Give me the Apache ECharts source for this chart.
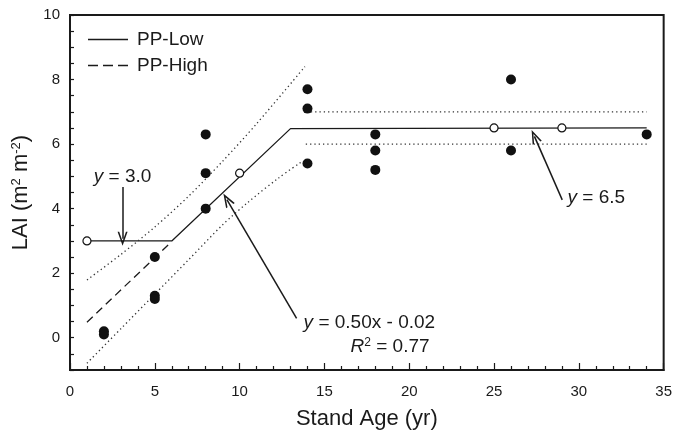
<!DOCTYPE html>
<html><head><meta charset="utf-8">
<script src="https://cdn.jsdelivr.net/npm/echarts@6/dist/echarts.min.js"></script>
<style>html,body{margin:0;padding:0;background:#fff}#c{width:675px;height:437px}</style>
</head><body><div id="c"></div>
<script>
// ---- data ----
const filledAge = [2, 2, 5, 5, 5, 8, 8, 8, 14, 14, 14, 18, 18, 18, 26, 26, 34];
const filledLAI = [0.2, 0.1, 2.5, 1.3, 1.2, 4.0, 5.1, 6.3, 7.7, 7.1, 5.4, 6.3, 5.8, 5.2, 8.0, 5.8, 6.3];
const openAge = [1, 10, 25, 29];
const openLAI = [3.0, 5.1, 6.5, 6.5];
const lowAge = [1, 6, 13, 34];
const lowLAI = [3.0, 3.0, 6.48, 6.5];
const highAge = [1, 6];
const highLAI = [0.48, 2.98];
const ciUpAge = [1, 3, 5, 7, 9, 11, 13.85];
const ciUpLAI = [1.79, 2.58, 3.43, 4.39, 5.47, 6.63, 8.4];
const ciLoAge = [1, 3, 5, 7, 9, 10.5, 12.3, 13.65];
const ciLoLAI = [-0.79, 0.28, 1.35, 2.42, 3.5, 4.2, 4.95, 5.45];
const plateauUpAge = [14.2, 34];
const plateauUpLAI = [7.0, 7.0];
const plateauLoAge = [13.9, 34];
const plateauLoLAI = [6.0, 6.0];
const xTickLabels = [0, 5, 10, 15, 20, 25, 30, 35];
const yTickLabels = [0, 2, 4, 6, 8, 10];
// annotations (data space)
const noteText = ['{i|y} = 3.0', '{i|y} = 0.50x - 0.02', '{i|R}{sup|2} = 0.77', '{i|y} = 6.5'];
const noteAge = [3.1, 17.65, 18.87, 31.03];
const noteLAI = [4.98, 0.45, -0.28, 4.34];
const arrowFromAge = [3.1, 13.36, 29.02];
const arrowFromLAI = [4.67, 0.60, 4.27];
const arrowToAge = [3.1, 9.25, 27.38];
const arrowToLAI = [3.07, 4.28, 6.24];

const zip = (a, b) => a.map((v, i) => [v, b[i]]);
const FONT = '"Liberation Sans", Arial, Helvetica, sans-serif';
const INK = '#1a1a1a';
const arrowHead = 'path://M5,0 L10,14 L8.4,14 L5,4.5 L1.6,14 L0,14 Z';
const iconSolid = 'path://M0,0 L40,0 L40,1.3 L0,1.3 Z';
const iconDash = 'path://M0,0 L10,0 L10,1.3 L0,1.3 Z M15,0 L25,0 L25,1.3 L15,1.3 Z M30,0 L40,0 L40,1.3 L30,1.3 Z';

const chart = echarts.init(document.getElementById('c'), null, {renderer: 'canvas'});
const dotted = {color: '#333', width: 1.3, type: [1.3, 3]};

chart.setOption({
  animation: false,
  backgroundColor: '#fff',
  textStyle: {fontFamily: FONT},
  grid: {left: 70, right: 7, top: 15, bottom: 67, show: true, borderColor: INK, borderWidth: 2, backgroundColor: 'transparent'},
  legend: {
    orient: 'vertical', left: 88, top: 30, padding: 0,
    itemWidth: 40, itemHeight: 1.3, itemGap: 7,
    data: [{name: 'PP-Low', icon: iconSolid}, {name: 'PP-High', icon: iconDash}],
    itemStyle: {color: INK, borderWidth: 0},
    textStyle: {fontSize: 19, color: INK, fontFamily: FONT, padding: [0, 0, 0, 4]}
  },
  xAxis: {
    type: 'value', min: 0, max: 35, interval: 5,
    axisLine: {onZero: false, lineStyle: {color: INK, width: 2}},
    axisTick: {inside: true, length: 7, lineStyle: {color: INK, width: 1.2}},
    minorTick: {show: true, splitNumber: 5, length: 4, lineStyle: {color: INK, width: 1.2}},
    splitLine: {show: false},
    axisLabel: {fontSize: 15, color: INK, margin: 14, fontFamily: FONT,
      formatter: v => xTickLabels.includes(v) ? String(v) : ''},
    name: 'Stand Age (yr)', nameLocation: 'middle', nameGap: 38,
    nameTextStyle: {fontSize: 22, color: INK, fontFamily: FONT}
  },
  yAxis: {
    type: 'value', min: -1, max: 10, interval: 0.5,
    axisLine: {onZero: false, lineStyle: {color: INK, width: 2}},
    axisTick: {inside: true, length: 4, lineStyle: {color: INK, width: 1.2}},
    splitLine: {show: false},
    axisLabel: {fontSize: 15, color: INK, margin: 10, fontFamily: FONT,
      formatter: v => yTickLabels.includes(v) ? String(v) : ''},
    name: 'LAI (m{sup|2} m{sup|-2})', nameLocation: 'middle', nameGap: 36,
    nameTextStyle: {fontSize: 22, color: INK, fontFamily: FONT,
      rich: {sup: {fontSize: 13, color: INK, fontFamily: FONT, padding: [0, 0, 10, 0]}}}
  },
  series: [
    {name: 'PP-Low', type: 'line', data: zip(lowAge, lowLAI), symbol: 'none', z: 3,
      lineStyle: {color: INK, width: 1.3}, itemStyle: {color: INK}},
    {name: 'PP-High', type: 'line', data: zip(highAge, highLAI), symbol: 'none', z: 3,
      lineStyle: {color: INK, width: 1.3, type: [8, 5]}, itemStyle: {color: INK}},
    {name: 'ci-up', type: 'line', data: zip(ciUpAge, ciUpLAI), symbol: 'none', smooth: 0.3, lineStyle: dotted},
    {name: 'ci-lo', type: 'line', data: zip(ciLoAge, ciLoLAI), symbol: 'none', smooth: 0.3, lineStyle: dotted},
    {name: 'pl-up', type: 'line', data: zip(plateauUpAge, plateauUpLAI), symbol: 'none', lineStyle: dotted},
    {name: 'pl-lo', type: 'line', data: zip(plateauLoAge, plateauLoLAI), symbol: 'none', lineStyle: dotted},
    {name: 'filled', type: 'scatter', data: zip(filledAge, filledLAI), symbol: 'circle', symbolSize: 10, z: 5,
      itemStyle: {color: '#111', opacity: 1}},
    {name: 'open', type: 'scatter', data: zip(openAge, openLAI), symbol: 'circle', symbolSize: 8, z: 6,
      itemStyle: {color: '#fff', borderColor: '#111', borderWidth: 1.2, opacity: 1}},
    {name: 'notes', type: 'line', data: [], silent: true,
      markLine: {
        silent: true, animation: false,
        symbol: ['none', arrowHead], symbolSize: [10, 14],
        lineStyle: {color: INK, width: 1.5, type: 'solid'},
        label: {show: false},
        data: arrowFromAge.map((x, i) => [
          {coord: [x, arrowFromLAI[i]]},
          {coord: [arrowToAge[i], arrowToLAI[i]]}
        ])
      },
      markPoint: {
        silent: true, animation: false,
        symbol: 'circle', symbolSize: 0, itemStyle: {color: 'transparent'},
        label: {show: true, position: 'inside', fontSize: 19, color: INK, fontFamily: FONT,
          rich: {
            i: {fontStyle: 'italic', fontSize: 19, color: INK, fontFamily: FONT},
            sup: {fontSize: 12, color: INK, fontFamily: FONT, padding: [0, 0, 9, 0]}
          }},
        data: noteText.map((t, i) => ({coord: [noteAge[i], noteLAI[i]], label: {formatter: t}}))
      }
    }
  ]
});
</script></body></html>
